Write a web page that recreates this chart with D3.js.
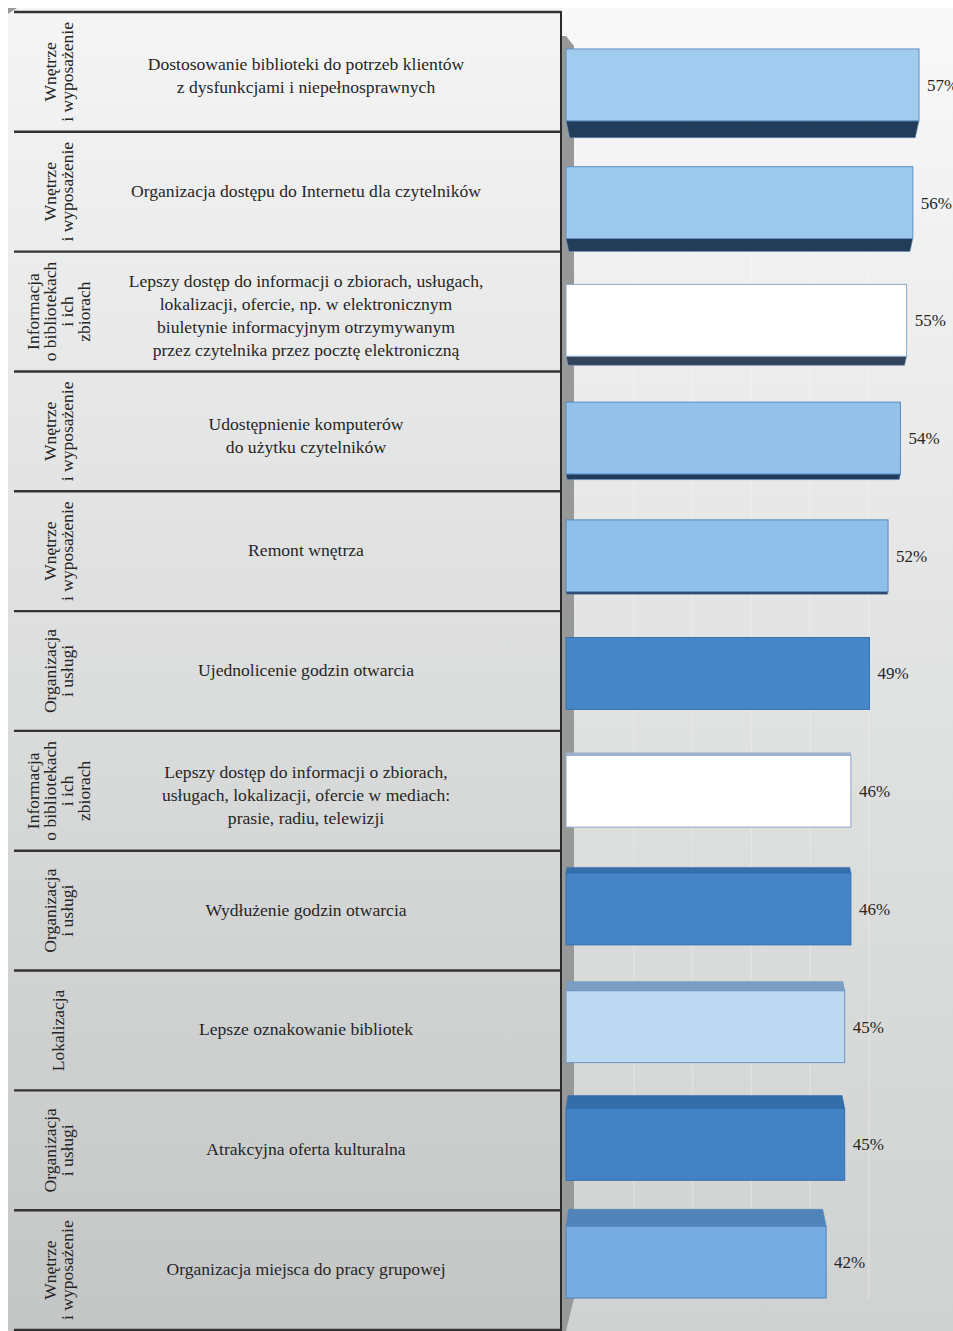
<!DOCTYPE html>
<html>
<head>
<meta charset="utf-8">
<script src="https://cdn.jsdelivr.net/npm/d3@7"></script>
<style>
  html, body { margin: 0; padding: 0; background: #ffffff; }
  svg { display: block; }
  text { font-family: "Liberation Serif", "Times New Roman", serif; fill: #262626; }
</style>
</head>
<body>
<svg id="chart" width="953" height="1331"></svg>
<script>
// Survey: expected improvements in libraries (share of answers)
const groups = [
  "Wnętrze\ni wyposażenie",
  "Wnętrze\ni wyposażenie",
  "Informacja\no bibliotekach\ni ich\nzbiorach",
  "Wnętrze\ni wyposażenie",
  "Wnętrze\ni wyposażenie",
  "Organizacja\ni usługi",
  "Informacja\no bibliotekach\ni ich\nzbiorach",
  "Organizacja\ni usługi",
  "Lokalizacja",
  "Organizacja\ni usługi",
  "Wnętrze\ni wyposażenie"
];

const descriptions = [
  "Dostosowanie biblioteki do potrzeb klientów\nz dysfunkcjami i niepełnosprawnych",
  "Organizacja dostępu do Internetu dla czytelników",
  "Lepszy dostęp do informacji o zbiorach, usługach,\nlokalizacji, ofercie, np. w elektronicznym\nbiuletynie informacyjnym otrzymywanym\nprzez czytelnika przez pocztę elektroniczną",
  "Udostępnienie komputerów\ndo użytku czytelników",
  "Remont wnętrza",
  "Ujednolicenie godzin otwarcia",
  "Lepszy dostęp do informacji o zbiorach,\nusługach, lokalizacji, ofercie w mediach:\nprasie, radiu, telewizji",
  "Wydłużenie godzin otwarcia",
  "Lepsze oznakowanie bibliotek",
  "Atrakcyjna oferta kulturalna",
  "Organizacja miejsca do pracy grupowej"
];

const values = [57, 56, 55, 54, 52, 49, 46, 46, 45, 45, 42];

const groupNames = [
  "Wnętrze\ni wyposażenie",
  "Informacja\no bibliotekach\ni ich\nzbiorach",
  "Organizacja\ni usługi",
  "Lokalizacja"
];
// front colour of each group's bars: [top rows, bottom rows]
const groupPalette = [
  ["#a1ccef", "#77ace0"],
  ["#ffffff", "#ffffff"],
  ["#4b8aca", "#4282c4"],
  ["#bdd8f1", "#bdd8f1"]
];

const W = 953, H = 1331;
const n = values.length;
const idx = d3.range(n);
const svg = d3.select("#chart");
const defs = svg.append("defs");

// ---- backgrounds ----
const gLeft = defs.append("linearGradient").attr("id", "bgLeft")
  .attr("x1", 0).attr("y1", 0).attr("x2", 0).attr("y2", 1);
gLeft.append("stop").attr("offset", 0).attr("stop-color", "#f5f5f5");
gLeft.append("stop").attr("offset", 0.5).attr("stop-color", "#dcdddd");
gLeft.append("stop").attr("offset", 1).attr("stop-color", "#c4c6c6");

const gRight = defs.append("linearGradient").attr("id", "bgRight")
  .attr("x1", 0).attr("y1", 0).attr("x2", 0).attr("y2", 1);
gRight.append("stop").attr("offset", 0).attr("stop-color", "#f9f9f9");
gRight.append("stop").attr("offset", 0.5).attr("stop-color", "#e1e2e2");
gRight.append("stop").attr("offset", 1).attr("stop-color", "#d0d2d2");

svg.append("rect").attr("x", 8).attr("y", 8).attr("width", 554).attr("height", H - 8)
  .attr("fill", "url(#bgLeft)");
svg.append("rect").attr("x", 562).attr("y", 8).attr("width", W - 562).attr("height", H - 8)
  .attr("fill", "url(#bgRight)");
svg.append("path").attr("d", "M8,8 L17,8 L8,14 Z").attr("fill", "#9a9a9a");

// ---- scales ----
const rowY = d3.scaleBand().domain(idx).range([12, 1330]);
const y = d3.scaleBand().domain(idx).range([26, 1321]).paddingInner(0.39).paddingOuter(0.195);
const x = d3.scaleLinear().domain([0, 60]).range([566, 937.6]);
const xWall = d3.scaleLinear().domain([0, 60]).range([575, 927.5]);
const yMid = (y.range()[0] + y.range()[1]) / 2;
const half = (y.range()[1] - y.range()[0]) / 2;
// depth of the visible top/bottom face grows away from the eye level
const depth = d3.scalePow().exponent(1.2).domain([-half, half]).range([-19, 19]);
const shade = d3.scaleLinear().domain([0, n - 1]).range([0, 1]);
const palette = d3.scaleOrdinal().domain(groupNames).range(groupPalette);

function frontColor(i) {
  const pair = palette(groups[i]);
  return d3.interpolateRgb(pair[0], pair[1])(shade(i));
}
function faceDepth(i) {
  return depth(y(i) + y.bandwidth() / 2 - yMid);
}

// ---- back wall of the plot ----
svg.append("path")
  .attr("d", "M562,36 L566,36 L574,46 L574,1298 L566,1331 L562,1331 Z")
  .attr("fill", "#979898");

svg.append("g").selectAll("line").data([10, 20, 30, 40, 50]).join("line")
  .attr("x1", d => xWall(d)).attr("x2", d => xWall(d))
  .attr("y1", 40).attr("y2", 1300)
  .attr("stroke", "#ffffff").attr("stroke-opacity", 0.22).attr("stroke-width", 1.5);

// ---- table on the left ----
const table = svg.append("g");
table.selectAll("line.row").data(d3.range(n + 1)).join("line")
  .attr("class", "row")
  .attr("x1", 14).attr("x2", 561)
  .attr("y1", d => d < n ? rowY(d) : rowY.range()[1])
  .attr("y2", d => d < n ? rowY(d) : rowY.range()[1])
  .attr("stroke", "#333333").attr("stroke-width", 2.4);
table.append("line")
  .attr("x1", 561).attr("x2", 561).attr("y1", 11).attr("y2", H)
  .attr("stroke", "#2a2a2a").attr("stroke-width", 2);

// rotated group names
const grp = table.selectAll("g.grp").data(idx).join("g")
  .attr("class", "grp")
  .attr("transform", i => `translate(58,${rowY(i) + rowY.bandwidth() / 2}) rotate(-90)`);
grp.append("text")
  .attr("text-anchor", "middle")
  .style("font-size", "17.5px")
  .each(function(i) {
    const lines = groups[i].split("\n");
    d3.select(this).selectAll("tspan").data(lines).join("tspan")
      .attr("x", 0)
      .attr("y", (d, k) => (k - (lines.length - 1) / 2) * 17 + 6)
      .text(d => d);
  });

// descriptions
table.selectAll("text.desc").data(idx).join("text")
  .attr("class", "desc")
  .attr("text-anchor", "middle")
  .style("font-size", "17.6px")
  .each(function(i) {
    const lines = descriptions[i].split("\n");
    const cy = rowY(i) + rowY.bandwidth() / 2 + (lines.length > 1 ? 5 : 0);
    d3.select(this).selectAll("tspan").data(lines).join("tspan")
      .attr("x", 306)
      .attr("y", (d, k) => cy + (k - (lines.length - 1) / 2) * 23 + 5)
      .text(d => d);
  });

// ---- 3D bars ----
const bars = svg.append("g").selectAll("g.bar").data(idx).join("g").attr("class", "bar");

bars.append("path")
  .attr("fill", i => faceDepth(i) < 0
      ? d3.interpolateRgb(frontColor(i), "#0f2540")(0.86)
      : d3.interpolateRgb(frontColor(i), "#1d4f85")(0.42))
  .attr("stroke", i => d3.interpolateRgb(frontColor(i), "#2a5f9c")(0.5))
  .attr("stroke-width", 0.6)
  .attr("d", i => {
    const d = faceDepth(i);
    const x0 = x(0), xe = x(values[i]);
    const a = Math.abs(d);
    if (d < 0) {
      const y1 = y(i) + y.bandwidth(), y2 = y1 + a;
      return `M${x0},${y1} L${xe},${y1} L${xe - a * 0.22},${y2} L${x0 + a * 0.22},${y2} Z`;
    }
    const y1 = y(i), y2 = y1 - a;
    return `M${x0},${y1} L${xe},${y1} L${xe - a * 0.2},${y2} L${x0 + a * 0.15},${y2} Z`;
  });

bars.append("rect")
  .attr("x", x(0))
  .attr("y", i => y(i))
  .attr("width", i => x(values[i]) - x(0))
  .attr("height", y.bandwidth())
  .attr("fill", i => frontColor(i))
  .attr("stroke", i => d3.interpolateRgb(frontColor(i), "#2a5f9c")(0.55))
  .attr("stroke-width", 1);

// value labels
svg.append("g").selectAll("text").data(idx).join("text")
  .attr("x", i => x(values[i]) + 8)
  .attr("y", i => y(i) + y.bandwidth() / 2)
  .attr("dy", "0.35em")
  .style("font-size", "17px")
  .text(i => values[i] + "%");
</script>
</body>
</html>
